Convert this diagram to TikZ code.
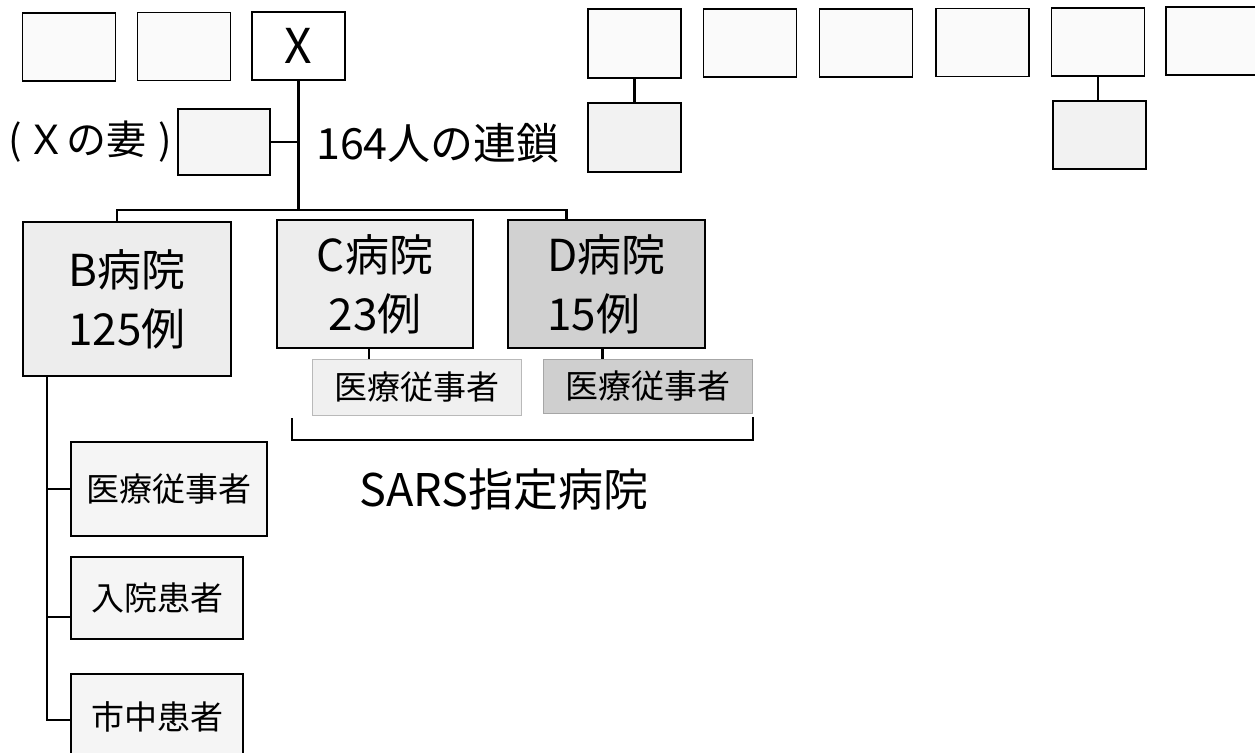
\documentclass[tikz,border=0pt]{standalone}
\usepackage{fontspec}
\setmainfont{Noto Sans CJK JP}
\begin{document}
\begin{tikzpicture}[x=1pt,y=-1pt,
  box/.style={draw=black, line width=1.6pt, inner sep=0pt, fill=gray!4},
  sq/.style={box, minimum width=93pt, minimum height=68pt},
  hosp/.style={box, fill=gray!14, align=center, font=\fontsize{44}{59}\selectfont},
  sub/.style={draw=gray!55, line width=0.8pt, inner sep=0pt, fill=gray!12, font=\fontsize{33}{40}\selectfont},
  bsub/.style={box, fill=gray!8, font=\fontsize{33}{40}\selectfont},
  conn/.style={line width=2.2pt, draw=black}]
\useasboundingbox (0,0) rectangle (1255,752);
\clip (0,0) rectangle (1255,752);
% top left row
\node[sq] (b1) at (69,47) {};
\node[sq] (b2) at (184,46.5) {};
\node[sq, fill=white, font=\fontsize{48}{50}\selectfont] (X) at (298.5,46) {X};
\node[sq, fill=gray!8, minimum width=92pt, minimum height=66pt] (wife) at (224,142) {};
\node[font=\fontsize{40}{44}\selectfont, inner sep=0pt, anchor=west] (wifelbl) at (8,142) {(\hspace{5pt}Ｘの妻\hspace{12pt})};
\node[font=\fontsize{43}{46}\selectfont, inner sep=0pt] (chain) at (438,143) {164人の連鎖};
% top right boxes
\node[sq, minimum height=69pt] (ra) at (634.5,43.5) {};
\node[sq, minimum height=69pt, fill=gray!10] (rla) at (634.5,137.5) {};
\node[sq] (rb) at (750,43) {};
\node[sq] (rc) at (866,43) {};
\node[sq] (rd) at (982.5,42.5) {};
\node[sq] (re) at (1098,42) {};
\node[sq, fill=gray!10] (rle) at (1099.5,135) {};
\node[sq] (rf) at (1212.5,41) {};
% hospitals
\node[hosp, minimum width=208pt, minimum height=154pt] (B) at (127,299) {B病院\\125例};
\node[hosp, minimum width=196pt, minimum height=128pt] (C) at (375,284) {C病院\\23例};
\node[hosp, fill=gray!36, align=left, minimum width=197pt, minimum height=128pt] (D) at (606.5,284) {D病院\\15例};
\node[sub, minimum width=209pt, minimum height=56pt] (Cs) at (416.5,387) {医療従事者};
\node[sub, fill=gray!38, draw=gray!70, minimum width=209pt, minimum height=54pt] (Ds) at (647.5,386) {医療従事者};
\node[font=\fontsize{45}{50}\selectfont, inner sep=0pt] (sars) at (504,490) {SARS指定病院};
% B sub-boxes
\node[bsub, minimum width=196pt, minimum height=94pt] (B1) at (169,489) {医療従事者};
\node[bsub, minimum width=172pt, minimum height=82pt] (B2) at (157,598) {入院患者};
\node[bsub, minimum width=172pt, minimum height=86pt] (B3) at (157,717) {市中患者};
% connectors
\coordinate (br) at (298.5,210);
\draw[conn] (X.south) -- (br);
\draw[conn] (wife.east) -- (wife.east -| X.south);
\draw[conn] ([xshift=-10pt]B.north) |- (br) -| ([xshift=-40pt]D.north);
\draw[conn] ([xshift=-6pt]C.south) -- ([xshift=-6pt]C.south |- Cs.north);
\draw[conn] ([xshift=-4pt]D.south) -- ([xshift=-4pt]D.south |- Ds.north);
\draw[conn] (ra.south) -- (rla.north);
\draw[conn] (re.south) -- (re.south |- rle.north);
% B column
\coordinate (bt) at ([xshift=25pt]B.south west);
\coordinate (bb) at (bt |- 0,720);
\draw[conn] (bt) -- (bb) -- (bb -| B3.west);
\draw[conn] (bt |- B1.west) -- (B1.west);
\draw[conn] (bt |- 0,617) -- (B2.west |- 0,617);
% bracket
\coordinate (k1) at (292,418);
\coordinate (k2) at (292,440);
\coordinate (k3) at (753,440);
\coordinate (k4) at (753,417);
\draw[line width=1.6pt] (k1) -- (k2) -- (k3) -- (k4);
\end{tikzpicture}
\end{document}
